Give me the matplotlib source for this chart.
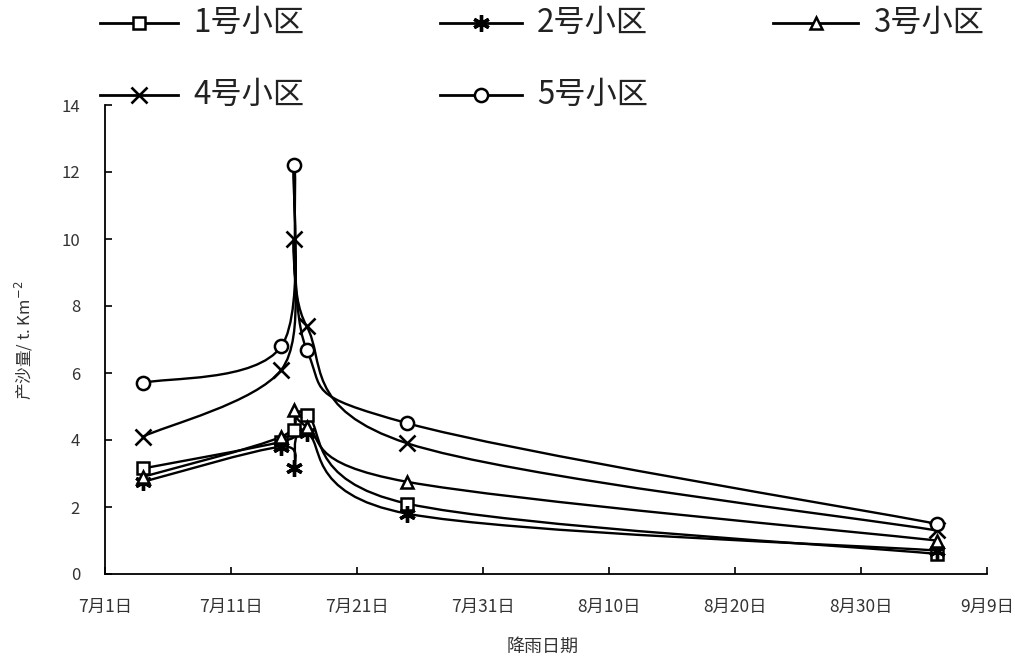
import matplotlib
matplotlib.use("Agg")
import matplotlib.pyplot as plt
from matplotlib.path import Path
from matplotlib.patches import PathPatch
from matplotlib.lines import Line2D
import numpy as np

plt.rcParams['font.family'] = ['Noto Sans CJK SC', 'DejaVu Sans']
plt.rcParams['axes.unicode_minus'] = False

# ---- data ----
days = [3, 14, 15, 16, 24, 66]          # days after July 1
tick_days = [0, 10, 20, 30, 40, 50, 60, 70]
tick_labels = ['7月1日', '7月11日', '7月21日', '7月31日', '8月10日', '8月20日', '8月30日', '9月9日']
y_ticks = [0, 2, 4, 6, 8, 10, 12, 14]
series_names = ['1号小区', '2号小区', '3号小区', '4号小区', '5号小区']
s1 = [3.15, 3.95, 4.3, 4.75, 2.1, 0.6]
s2 = [2.75, 3.8, 3.15, 4.2, 1.8, 0.7]
s3 = [2.9, 4.1, 4.9, 4.4, 2.75, 1.0]
s4 = [4.1, 6.1, 10.0, 7.4, 3.9, 1.3]
s5 = [5.7, 6.8, 12.2, 6.7, 4.5, 1.5]
series = [s1, s2, s3, s4, s5]

markers = ['s', (6, 2, 0), '^', 'x', 'o']
msizes = [9, 12, 9, 11, 9.5]
mews = [1.8, 2.4, 1.8, 1.9, 1.8]

W, H = 1015, 657
fig = plt.figure(figsize=(W / 100, H / 100), dpi=100)
ax = fig.add_axes([105 / W, 1 - 574 / H, (987 - 105) / W, (574 - 105) / H])


def smooth_path(xs, ys):
    pts = np.column_stack([xs, ys]).astype(float)
    n = len(pts)
    verts = [pts[0]]
    codes = [Path.MOVETO]
    for i in range(n - 1):
        p0 = pts[i - 1] if i > 0 else pts[i]
        p1 = pts[i]
        p2 = pts[i + 1]
        p3 = pts[i + 2] if i + 2 < n else pts[i + 1]
        c1 = p1 + (p2 - p0) / 6.0
        c2 = p2 - (p3 - p1) / 6.0
        verts += [c1, c2, p2]
        codes += [Path.CURVE4] * 3
    return Path(verts, codes)


for vals, mk, ms, mew in zip(series, markers, msizes, mews):
    ax.add_patch(PathPatch(smooth_path(days, vals), facecolor='none',
                           edgecolor='black', lw=1.7, zorder=2))
    ax.plot(days, vals, linestyle='none', marker=mk, markersize=ms,
            markerfacecolor='white', markeredgecolor='black',
            markeredgewidth=mew, zorder=3)

ax.set_xlim(0, 70)
ax.set_ylim(0, 14)
ax.set_xticks(tick_days)
ax.set_xticklabels(tick_labels)
ax.set_yticks(y_ticks)
ax.tick_params(axis='both', direction='in', length=5, width=1.2,
               colors='black', labelcolor='#333333')
ax.tick_params(axis='x', pad=17, labelsize=12.5)
ax.tick_params(axis='y', pad=18, labelsize=12)
for s in ['top', 'right']:
    ax.spines[s].set_visible(False)
for s in ['left', 'bottom']:
    ax.spines[s].set_linewidth(1.3)

fig.text(24 / W, 1 - 340 / H, '产沙量/ t. Km$^{-2}$', rotation=90,
         ha='center', va='center', fontsize=12, color='#333333')
fig.text(543 / W, 1 - 647 / H, '降雨日期', ha='center', va='center',
         fontsize=13, color='#333333')

# ---- legend (manual layout) ----
leg_pos = [(100, 178, 23), (440, 522, 23), (773, 858, 23),
           (100, 178, 95), (440, 522, 95)]
for (x0, x1, yy), name, mk, ms, mew in zip(leg_pos, series_names, markers, msizes, mews):
    yf = 1 - yy / H
    xm = (x0 + x1) / 2
    fig.add_artist(Line2D([x0 / W, xm / W, x1 / W], [yf, yf, yf],
                          transform=fig.transFigure, color='black', lw=2.0,
                          marker=mk, markevery=[1], markersize=ms,
                          markerfacecolor='white', markeredgecolor='black',
                          markeredgewidth=mew))
    fig.text((x1 + 15) / W, yf, name, ha='left', va='center', fontsize=22.5,
             color='#222222')

fig.savefig('out.png', dpi=100)
